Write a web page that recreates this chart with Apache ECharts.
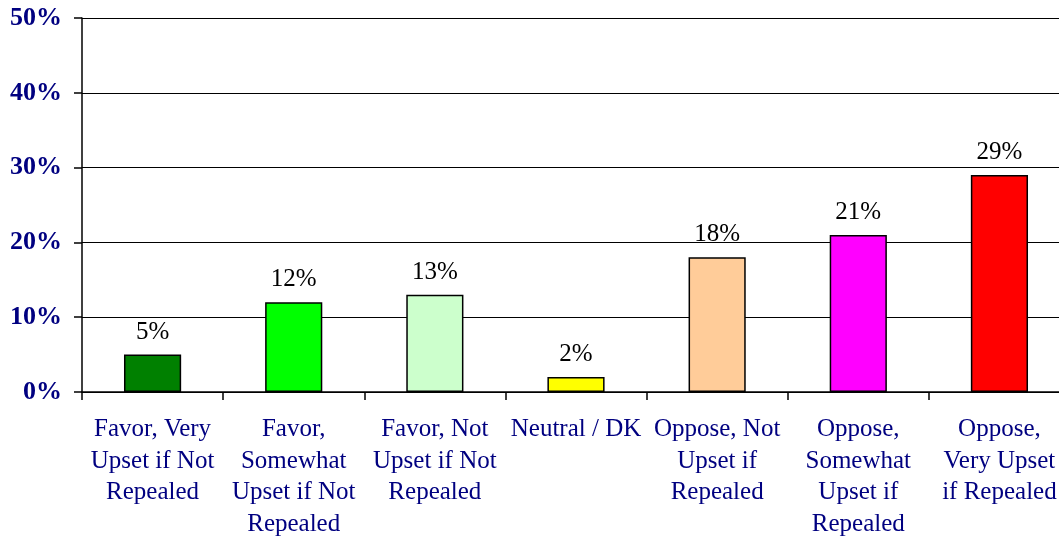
<!DOCTYPE html>
<html><head><meta charset="utf-8">
<script src="https://cdn.jsdelivr.net/npm/echarts@6/dist/echarts.min.js"></script>
<style>html,body{margin:0;padding:0;background:#fff;overflow:hidden;width:1059px;height:538px}#w{position:relative;width:1059px;height:538px;overflow:hidden}#c{position:absolute;left:0;top:0;width:1070px;height:538px}</style>
</head><body><div id="w"><div id="c"></div></div>
<script>
const categories = [
  "Favor, Very\nUpset if Not\nRepealed",
  "Favor,\nSomewhat\nUpset if Not\nRepealed",
  "Favor, Not\nUpset if Not\nRepealed",
  "Neutral / DK",
  "Oppose, Not\nUpset if\nRepealed",
  "Oppose,\nSomewhat\nUpset if\nRepealed",
  "Oppose,\nVery Upset\nif Repealed"
];
const values = [5, 12, 13, 2, 18, 21, 29];
const barColors = ["#008000", "#00FF00", "#CCFFCC", "#FFFF00", "#FFCC99", "#FF00FF", "#FF0000"];
const yTicks = [0, 10, 20, 30, 40, 50];

const chart = echarts.init(document.getElementById('c'));
chart.setOption({
  animation: false,
  grid: { left: 82, right: 0, top: 18, bottom: 146, containLabel: false, outerBoundsMode: 'none' },
  xAxis: {
    type: 'category',
    data: categories,
    axisLine: { lineStyle: { color: '#000', width: 1.5 } },
    axisTick: { show: true, length: 8, inside: false, lineStyle: { color: '#000', width: 1.5 } },
    axisLabel: {
      interval: 0, margin: 22,
      fontFamily: 'Liberation Serif', fontSize: 25, lineHeight: 31.5, color: '#000080', align: 'center'
    }
  },
  yAxis: {
    type: 'value', min: 0, max: 50, interval: 10,
    axisLine: { show: true, lineStyle: { color: '#000', width: 1.5 } },
    axisTick: { show: true, length: 8, lineStyle: { color: '#000', width: 1.5 } },
    splitLine: { lineStyle: { color: '#000', width: 1.2 } },
    axisLabel: {
      margin: 20,
      fontFamily: 'Liberation Serif', fontSize: 26, fontWeight: 'bold', color: '#000080',
      formatter: v => yTicks.includes(v) ? v + '%' : ''
    }
  },
  series: [{
    type: 'bar',
    data: values.map((v, i) => ({ value: v, itemStyle: { color: barColors[i] } })),
    barWidth: '40.5%',
    itemStyle: { borderColor: '#000', borderWidth: 1.5 },
    label: {
      show: true, position: 'top', distance: 10,
      fontFamily: 'Liberation Serif', fontSize: 25, color: '#000',
      formatter: p => p.value + '%'
    }
  }]
});
</script></body></html>
